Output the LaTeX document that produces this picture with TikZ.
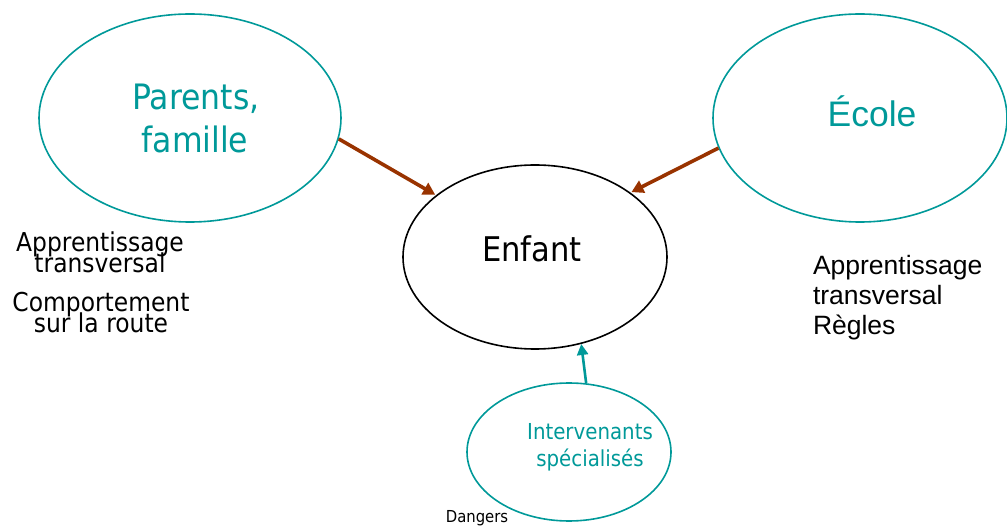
\documentclass[tikz,border=0pt]{standalone}
\usepackage{fontspec}
\setmainfont{Liberation Sans}
\newfontfamily\tah[FakeStretch=0.9]{DejaVu Sans}
\usetikzlibrary{arrows.meta,shapes.geometric}
\definecolor{tealc}{RGB}{0,153,153}
\definecolor{brownc}{RGB}{153,51,0}
\newcommand\mytightlines{\lineskiplimit=-50pt\relax\lineskip=0pt\relax}
\tikzset{
  oval/.style={ellipse, draw=tealc, line width=1.6pt, inner sep=0pt},
  blackoval/.style={ellipse, draw=black, line width=1.6pt, inner sep=0pt},
  txt/.style={anchor=base, inner sep=0pt, outer sep=0pt},
  tightside/.style={txt, align=center, font=\tah\fontsize{26}{21}\selectfont\mytightlines},
  brownarrow/.style={draw=brownc, line width=3.6pt, -{Triangle[length=12pt,width=13pt]}, shorten >=1pt},
  tealarrow/.style={draw=tealc, line width=2.6pt, -{Triangle[length=11pt,width=11pt]}}
}
\begin{document}
\begin{tikzpicture}[x=1pt,y=-1pt]
\useasboundingbox (0,0) rectangle (1007,526);
% ellipses
\node[oval, minimum width=302pt, minimum height=208pt] (par) at (190,118) {};
\node[oval, minimum width=294pt, minimum height=208pt] (eco) at (860,118) {};
\node[blackoval, minimum width=264pt, minimum height=184pt] (enf) at (535,257) {};
\node[oval, minimum width=204pt, minimum height=138pt] (int) at (569,452) {};
% ellipse texts
\node[txt, text=tealc, font=\tah\fontsize{35}{40}\selectfont] (t1) at (196,110) {Parents,};
\node[txt, text=tealc, font=\tah\fontsize{35}{40}\selectfont] (t2) at (195,153) {famille};
\node[txt, text=tealc, font=\fontsize{35.5}{40}\selectfont] (t3) at (872,127) {École};
\node[txt, text=black, font=\tah\fontsize{34}{40}\selectfont] (t4) at (532,262) {Enfant};
\node[txt, text=tealc, font=\tah\fontsize{22}{26}\selectfont] (t5) at (590,439) {Intervenants};
\node[txt, text=tealc, font=\tah\fontsize{22}{26}\selectfont] (t6) at (590,467) {spécialisés};
% side texts
\node[tightside] (l1) at (100,273) {Apprentissage\\transversal};
\node[tightside] (l3) at (101,333) {Comportement\\sur la route};
\node[txt, anchor=base west, font=\fontsize{26.5}{30}\selectfont] (r1) at (813,275) {Apprentissage};
\node[txt, anchor=base west, font=\fontsize{26.5}{30}\selectfont] (r2) at (813,305) {transversal};
\node[txt, anchor=base west, font=\fontsize{26.5}{30}\selectfont] (r3) at (813,335) {Règles};
\node[txt, font=\tah\fontsize{16.5}{20}\selectfont] (dg) at (477,522) {Dangers};
% connectors
\draw[brownarrow] (par.-8.7) -- (enf.148.5);
\draw[brownarrow] (eco.-168.8) -- (enf.34.6);
\draw[tealarrow] (int.76) -- (enf.-62.3);
\end{tikzpicture}
\end{document}
